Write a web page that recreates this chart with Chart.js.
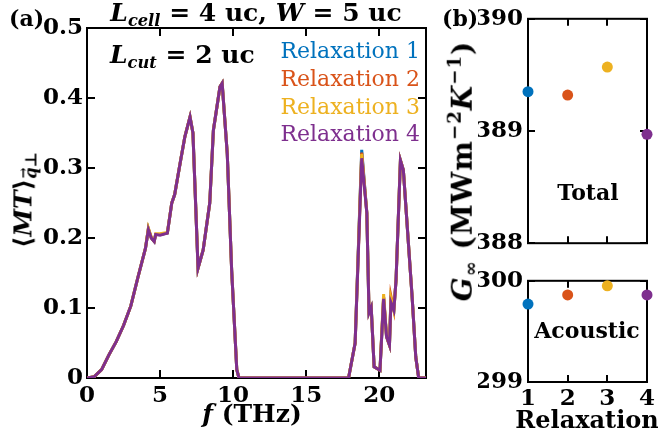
<!DOCTYPE html>
<html>
<head>
<meta charset="utf-8">
<script src="https://cdn.jsdelivr.net/npm/chart.js@4"></script>
<style>
  body { margin: 0; background: white; }
  #page { position: relative; width: 658px; height: 437px; overflow: hidden; font-family: "DejaVu Serif", serif; }
  canvas { position: absolute; }
  .txt { position: absolute; white-space: nowrap; font-weight: bold; font-size: 22px; color: #000; line-height: 1; }
  .big { font-size: 25px; }
  .leg { position: absolute; white-space: nowrap; font-size: 22px; line-height: 1; right: 238px; }
  sub { font-size: 65%; vertical-align: -0.3em; }
  sup { font-size: 65%; vertical-align: 0.6em; }
  .vec { position: relative; display: inline-block; }
  .vec span { position: absolute; left: 0.05em; top: -0.55em; font-size: 0.8em; font-style: normal; }
</style>
</head>
<body>
<div id="page">
  <canvas id="mainChart" width="440" height="437" style="left:0;top:0;width:440px;height:437px"></canvas>
  <canvas id="totalChart" width="218" height="262" style="left:440px;top:0;width:218px;height:262px"></canvas>
  <canvas id="acousticChart" width="218" height="175" style="left:440px;top:262px;width:218px;height:175px"></canvas>

  <div class="txt" style="left:9px;top:7px">(a)</div>
  <div class="txt big" style="left:256px;top:15px;transform:translate(-50%,-50%)"><i>L<sub>cell</sub></i> = 4 uc, <i>W</i> = 5 uc</div>
  <div class="txt big" style="left:110px;top:42px"><i>L<sub>cut</sub></i> = 2 uc</div>
  <div class="leg" style="top:40px;color:#0072BD">Relaxation 1</div>
  <div class="leg" style="top:68px;color:#D95319">Relaxation 2</div>
  <div class="leg" style="top:96px;color:#EDB120">Relaxation 3</div>
  <div class="leg" style="top:123px;color:#7E2F8E">Relaxation 4</div>
  <div class="txt big" style="left:25px;top:200px;transform:translate(-50%,-50%) rotate(-90deg)">⟨<i>MT</i>⟩<sub><i class="vec">q<span>→</span></i>⊥</sub></div>
  <div class="txt big" style="left:252px;top:413px;transform:translate(-50%,-50%)"><i>f</i> (THz)</div>

  <div class="txt" style="left:442px;top:7px">(b)</div>
  <div class="txt" style="left:463px;top:171px;font-size:28px;letter-spacing:1px;transform:translate(-50%,-50%) rotate(-90deg)"><i>G</i><sub>∞</sub> (MWm<sup>−2</sup><i>K</i><sup>−1</sup>)</div>
  <div class="txt" style="left:588px;top:192px;transform:translate(-50%,-50%)">Total</div>
  <div class="txt" style="left:587px;top:330px;transform:translate(-50%,-50%)">Acoustic</div>
  <div class="txt" style="left:587px;top:420px;font-size:24px;transform:translate(-50%,-50%)">Relaxation</div>
</div>

<script>
// frequency grid (THz) and <MT> for each relaxation run
const freq = [0, 0.5, 1.0, 1.5, 2.0, 2.5, 3.0, 3.5, 4.0, 4.2, 4.4, 4.6, 4.7, 5.0, 5.5, 5.8, 6.0, 6.4, 6.7, 7.05,
  7.25, 7.6, 7.95, 8.4, 8.65, 9.1, 9.25, 9.6, 9.9, 10.25, 10.4, 17.9, 18.35, 18.8, 19.15, 19.3, 19.45, 19.65, 20.05, 20.3,
  20.5, 20.7, 20.8, 21.0, 21.15, 21.45, 21.65, 22.25, 22.5, 22.7, 23.2];

const mtRelax1 = [0, 0.002, 0.012, 0.033, 0.052, 0.075, 0.103, 0.145, 0.185, 0.213, 0.200, 0.195, 0.205, 0.205, 0.207, 0.25, 0.262, 0.31, 0.345, 0.373,
  0.35, 0.157, 0.183, 0.25, 0.354, 0.416, 0.421, 0.32, 0.154, 0.012, 0, 0, 0.05, 0.326, 0.236, 0.094, 0.101, 0.016, 0.011, 0.115,
  0.059, 0.047, 0.112, 0.097, 0.14, 0.311, 0.297, 0.116, 0.03, 0, 0];
const mtRelax2 = [0, 0.002, 0.012, 0.033, 0.052, 0.075, 0.103, 0.145, 0.185, 0.213, 0.200, 0.195, 0.205, 0.205, 0.207, 0.25, 0.262, 0.31, 0.345, 0.373,
  0.35, 0.157, 0.183, 0.25, 0.354, 0.416, 0.421, 0.32, 0.154, 0.012, 0, 0, 0.05, 0.322, 0.236, 0.096, 0.101, 0.016, 0.011, 0.116,
  0.059, 0.047, 0.117, 0.097, 0.14, 0.311, 0.297, 0.116, 0.03, 0, 0];
const mtRelax3 = [0, 0.002, 0.012, 0.033, 0.052, 0.075, 0.103, 0.145, 0.185, 0.214, 0.201, 0.196, 0.206, 0.206, 0.208, 0.25, 0.262, 0.31, 0.345, 0.373,
  0.35, 0.157, 0.183, 0.25, 0.354, 0.416, 0.421, 0.32, 0.154, 0.012, 0, 0, 0.05, 0.320, 0.236, 0.093, 0.101, 0.016, 0.011, 0.120,
  0.059, 0.047, 0.114, 0.097, 0.14, 0.311, 0.297, 0.116, 0.03, 0, 0];
const mtRelax4 = [0, 0.002, 0.012, 0.033, 0.052, 0.075, 0.103, 0.145, 0.185, 0.212, 0.200, 0.195, 0.205, 0.204, 0.207, 0.25, 0.262, 0.31, 0.345, 0.373,
  0.35, 0.157, 0.183, 0.25, 0.354, 0.416, 0.421, 0.32, 0.154, 0.012, 0, 0, 0.05, 0.314, 0.236, 0.093, 0.101, 0.016, 0.011, 0.113,
  0.059, 0.047, 0.108, 0.097, 0.14, 0.311, 0.297, 0.116, 0.03, 0, 0];

// panel (b): conductance per relaxation
const relaxIds = [1, 2, 3, 4];
const gTotal = [389.35, 389.32, 389.57, 388.97];
const gAcoustic = [299.77, 299.86, 299.95, 299.86];

const freqTicks = [0, 5, 10, 15, 20];

const relaxColors = ['#0072BD', '#D95319', '#EDB120', '#7E2F8E'];
const fontFamily = '"DejaVu Serif", serif';

// box around the plot + inward tick marks on all four sides
const frameTicks = {
  id: 'frameTicks',
  beforeDatasetsDraw(chart, args, opts) {
    const {ctx, chartArea: a, scales} = chart;
    const len = opts.len || 7;
    ctx.save();
    ctx.strokeStyle = '#000';
    ctx.lineWidth = 2;
    ctx.beginPath();
    for (const t of scales.x.ticks) {
      const px = Math.round(scales.x.getPixelForValue(t.value));
      ctx.moveTo(px, a.bottom); ctx.lineTo(px, a.bottom - len);
      ctx.moveTo(px, a.top); ctx.lineTo(px, a.top + len);
    }
    for (const t of scales.y.ticks) {
      const py = Math.round(scales.y.getPixelForValue(t.value));
      ctx.moveTo(a.left, py); ctx.lineTo(a.left + len, py);
      ctx.moveTo(a.right, py); ctx.lineTo(a.right - len, py);
    }
    ctx.stroke();
    ctx.strokeRect(a.left, a.top, a.right - a.left, a.bottom - a.top);
    ctx.restore();
  }
};

function mainDatasets() {
  const series = [mtRelax1, mtRelax2, mtRelax3, mtRelax4];
  return series.map((vals, i) => ({
    label: 'Relaxation ' + (i + 1),
    data: freq.map((f, j) => ({x: f, y: vals[j]})),
    borderColor: relaxColors[i],
    borderWidth: 3,
    pointRadius: 0,
    tension: 0,
    order: 4 - i,
  }));
}

new Chart('mainChart', {
  type: 'line',
  data: { datasets: mainDatasets() },
  options: {
    responsive: false,
    animation: false,
    layout: { padding: { left: 27, top: 28, right: 14, bottom: 19 } },
    plugins: { legend: { display: false }, tooltip: { enabled: false }, frameTicks: { len: 8 } },
    scales: {
      x: {
        type: 'linear', min: 0, max: 23.2,
        afterFit: s => { s.height = 40; },
        afterBuildTicks: s => { s.ticks = freqTicks.map(v => ({value: v})); },
        grid: { display: false, drawTicks: false },
        border: { display: false },
        ticks: { color: '#000', padding: 4, maxRotation: 0, font: { family: fontFamily, size: 23, weight: 'bold' } },
      },
      y: {
        min: 0, max: 0.5,
        afterFit: s => { s.width = 60; },
        grid: { display: false, drawTicks: false },
        border: { display: false },
        ticks: {
          stepSize: 0.1, color: '#000', padding: 4,
          font: { family: fontFamily, size: 23, weight: 'bold' },
          callback: v => v === 0 ? '0' : v.toFixed(1),
        },
      },
    },
  },
  plugins: [frameTicks],
});

function panelChart(id, values, yMin, yMax, pad, showX) {
  return new Chart(id, {
    type: 'scatter',
    data: {
      datasets: [{
        data: relaxIds.map((r, i) => ({x: r, y: values[i]})),
        pointRadius: 5.5,
        pointBackgroundColor: relaxColors,
        pointBorderWidth: 0,
        clip: false,
      }],
    },
    options: {
      responsive: false,
      animation: false,
      layout: { padding: pad },
      plugins: { legend: { display: false }, tooltip: { enabled: false }, frameTicks: { len: 7 } },
      scales: {
        x: {
          type: 'linear', min: 1, max: 4,
          afterFit: s => { s.height = showX ? 30 : 0; },
          grid: { display: false, drawTicks: false },
          border: { display: false },
          ticks: { display: showX, stepSize: 1, color: '#000', padding: 3, font: { family: fontFamily, size: 23, weight: 'bold' } },
        },
        y: {
          min: yMin, max: yMax,
          afterFit: s => { s.width = 50; },
          grid: { display: false, drawTicks: false },
          border: { display: false },
          ticks: { stepSize: 1, color: '#000', padding: 5, font: { family: fontFamily, size: 23, weight: 'bold' } },
        },
      },
    },
    plugins: [frameTicks],
  });
}

panelChart('totalChart', gTotal, 388, 390, { left: 38, top: 15, right: 11, bottom: 12 }, false);
panelChart('acousticChart', gAcoustic, 299, 300, { left: 38, top: 10, right: 11, bottom: 25 }, true);
</script>
</body>
</html>
